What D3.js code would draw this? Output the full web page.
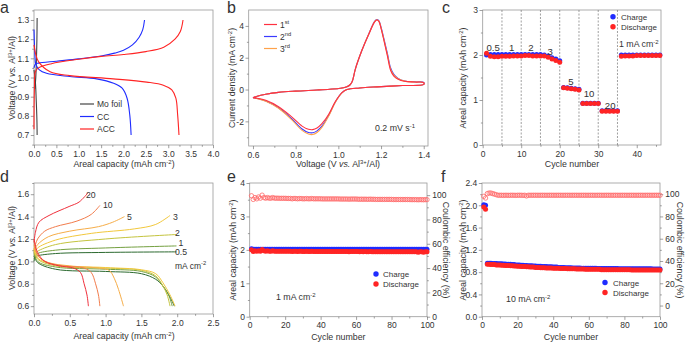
<!DOCTYPE html>
<html>
<head>
<meta charset="utf-8">
<script src="https://cdn.jsdelivr.net/npm/d3@7"></script>
<style>
body { margin: 0; background: #fff; }
text { font-family: "Liberation Sans", Arial, sans-serif; fill: #333; }
</style>
</head>
<body>
<svg id="fig" width="685" height="343"></svg>
<script>
// ---- panel a : galvanostatic curves (capacity, voltage)
var moCharge = [[0.02,0.94],[0.04,1.0],[0.055,1.1],[0.065,1.2],[0.07,1.31]];
var moDischarge = [[0.0,1.04],[0.03,0.98],[0.05,0.88],[0.065,0.78],[0.07,0.70]];
var ccCharge = [[0.0,1.05],[0.03,1.07],[0.1,1.075],[0.5,1.085],[1.0,1.097],[1.5,1.112],[1.8,1.127],[2.0,1.142],[2.2,1.17],[2.35,1.21],[2.43,1.25],[2.47,1.30]];
var ccDischarge = [[0.0,1.25],[0.02,1.12],[0.04,1.07],[0.12,1.04],[0.28,1.022],[0.8,1.005],[1.4,0.993],[1.78,0.97],[1.97,0.944],[2.08,0.892],[2.14,0.805],[2.17,0.70]];
var accCharge = [[0.0,0.73],[0.01,0.95],[0.03,1.03],[0.1,1.05],[0.39,1.072],[1.0,1.095],[1.5,1.11],[2.0,1.12],[2.5,1.135],[2.9,1.158],[3.15,1.2],[3.27,1.24],[3.33,1.30]];
var accDischarge = [[0.0,1.17],[0.04,1.12],[0.1,1.083],[0.36,1.03],[0.8,1.01],[1.77,0.993],[2.52,0.976],[2.89,0.96],[3.08,0.935],[3.17,0.892],[3.21,0.805],[3.24,0.70]];

// ---- panel b : cyclic voltammetry (voltage, current density)
var cv1 = [[0.60,-0.52],[0.62,-0.42],[0.66,-0.30],[0.72,-0.18],[0.80,-0.10],[0.90,-0.03],[0.96,0.02],[1.01,0.08],[1.04,0.17],[1.055,0.30],[1.065,0.50],[1.08,1.30],[1.11,2.45],[1.14,3.40],[1.17,4.25],[1.18,4.37],[1.19,4.28],[1.20,3.85],[1.215,3.00],[1.23,2.10],[1.245,1.20],[1.26,0.85],[1.28,0.65],[1.31,0.52],[1.36,0.47],[1.40,0.44],
  [1.40,0.32],[1.30,0.25],[1.18,0.17],[1.10,0.10],[1.04,0.0],[1.017,-0.19],[0.986,-0.75],[0.955,-1.55],[0.923,-2.15],[0.90,-2.42],[0.88,-2.52],[0.86,-2.50],[0.83,-2.30],[0.78,-1.70],[0.72,-1.08],[0.66,-0.68],[0.62,-0.55],[0.60,-0.52]];
var cv2 = [[0.60,-0.52],[0.62,-0.42],[0.66,-0.30],[0.72,-0.18],[0.80,-0.10],[0.90,-0.03],[0.96,0.02],[1.01,0.08],[1.04,0.17],[1.055,0.30],[1.065,0.50],[1.08,1.30],[1.11,2.45],[1.14,3.42],[1.17,4.28],[1.18,4.40],[1.19,4.32],[1.20,3.92],[1.215,3.10],[1.23,2.25],[1.245,1.35],[1.26,0.95],[1.28,0.70],[1.31,0.54],[1.36,0.48],[1.40,0.45],
  [1.40,0.32],[1.30,0.25],[1.18,0.17],[1.10,0.10],[1.04,0.0],[1.017,-0.20],[0.986,-0.78],[0.955,-1.62],[0.923,-2.30],[0.90,-2.60],[0.88,-2.72],[0.86,-2.70],[0.83,-2.48],[0.78,-1.82],[0.72,-1.15],[0.66,-0.72],[0.62,-0.56],[0.60,-0.52]];
var cv3 = [[0.60,-0.52],[0.62,-0.42],[0.66,-0.30],[0.72,-0.18],[0.80,-0.10],[0.90,-0.03],[0.96,0.02],[1.01,0.08],[1.04,0.17],[1.055,0.30],[1.065,0.50],[1.08,1.30],[1.11,2.45],[1.14,3.41],[1.17,4.27],[1.18,4.39],[1.19,4.30],[1.20,3.88],[1.215,3.05],[1.23,2.18],[1.245,1.28],[1.26,0.90],[1.28,0.68],[1.31,0.53],[1.36,0.47],[1.40,0.44],
  [1.40,0.32],[1.30,0.25],[1.18,0.17],[1.10,0.10],[1.04,0.0],[1.017,-0.21],[0.986,-0.80],[0.955,-1.66],[0.923,-2.38],[0.90,-2.70],[0.88,-2.83],[0.86,-2.80],[0.83,-2.57],[0.78,-1.88],[0.72,-1.18],[0.66,-0.74],[0.62,-0.57],[0.60,-0.52]];

// ---- panel c : rate capability
var cCharge = [2.00,2.01,2.01,2.01,2.01, 2.01,2.01,2.01,2.01,2.01, 2.01,2.01,2.01,2.01,2.01, 2.00,1.98,1.94,1.91,1.87,
  1.28,1.27,1.26,1.25,1.24, 0.93,0.93,0.93,0.93,0.93, 0.76,0.76,0.76,0.76,0.76,
  2.00,2.00,2.00,2.00,2.00,2.00,2.00,2.00,2.00,2.00,2.00];
var cDischarge = [2.04,1.97,1.96,1.96,1.97, 1.97,1.97,1.98,1.98,1.98, 1.99,1.99,1.98,1.98,1.98, 1.98,1.95,1.91,1.88,1.84,
  1.27,1.26,1.25,1.24,1.22, 0.92,0.92,0.92,0.92,0.92, 0.75,0.75,0.75,0.75,0.75,
  1.97,1.98,1.98,1.98,1.99,1.99,1.99,1.99,1.99,1.99,1.99];
var cRateLabels = ["0.5","1","2","3","5","10","20"];

// ---- panel d : curves at different current densities
var dRates = ["0.5","1","2","3","5","10","20"];
var dColors = ["#2c6a30","#74a040","#c4c43e","#f2c83c","#f6ad48","#f27c4c","#f0303c"];
var dCharge = [
  [[0.0,1.0],[0.02,1.04],[0.05,1.05],[0.3,1.07],[1.0,1.08],[1.99,1.085]],
  [[0.0,1.02],[0.02,1.05],[0.05,1.07],[0.3,1.10],[1.0,1.12],[1.99,1.138]],
  [[0.0,1.04],[0.02,1.07],[0.05,1.09],[0.3,1.15],[1.0,1.20],[1.99,1.24]],
  [[0.0,1.06],[0.02,1.09],[0.05,1.12],[0.3,1.19],[0.8,1.25],[1.4,1.29],[1.7,1.33],[1.9,1.41]],
  [[0.0,1.08],[0.02,1.12],[0.05,1.15],[0.2,1.22],[0.5,1.27],[0.9,1.31],[1.1,1.35],[1.264,1.40]],
  [[0.0,1.10],[0.02,1.15],[0.05,1.20],[0.15,1.27],[0.3,1.31],[0.6,1.36],[0.8,1.42],[0.92,1.50]],
  [[0.0,1.17],[0.02,1.26],[0.07,1.35],[0.21,1.41],[0.49,1.49],[0.63,1.53],[0.75,1.61]]
];
var dDischarge = [
  [[0.0,1.05],[0.05,0.99],[0.3,0.93],[1.0,0.91],[1.5,0.89],[1.7,0.84],[1.8,0.78],[1.9,0.68],[1.96,0.60]],
  [[0.0,1.08],[0.05,1.0],[0.3,0.95],[1.0,0.93],[1.5,0.91],[1.7,0.86],[1.8,0.78],[1.88,0.70],[1.93,0.60]],
  [[0.0,1.10],[0.05,1.02],[0.3,0.96],[1.0,0.94],[1.5,0.92],[1.7,0.87],[1.8,0.78],[1.86,0.70],[1.90,0.60]],
  [[0.0,1.12],[0.05,1.03],[0.3,0.97],[1.0,0.945],[1.5,0.925],[1.7,0.89],[1.8,0.81],[1.9,0.70],[1.97,0.60]],
  [[0.0,1.15],[0.05,1.05],[0.2,0.99],[0.5,0.96],[0.9,0.94],[1.05,0.92],[1.12,0.85],[1.18,0.75],[1.25,0.60]],
  [[0.0,1.18],[0.05,1.06],[0.15,1.0],[0.4,0.96],[0.7,0.94],[0.8,0.90],[0.86,0.80],[0.9,0.70],[0.92,0.60]],
  [[0.0,1.20],[0.05,1.08],[0.15,1.0],[0.35,0.96],[0.55,0.94],[0.65,0.90],[0.70,0.80],[0.74,0.70],[0.76,0.60]]
];

// ---- panel e : cycling at 1 mA cm-2
var eCharge = [
  2.03,2.02,2.02,2.02,2.02,2.02,2.02,2.02,2.02,2.02,
  2.02,2.02,2.02,2.02,2.02,2.02,2.02,2.02,2.02,2.02,
  2.02,2.02,2.02,2.02,2.02,2.02,2.02,2.02,2.02,2.02,
  2.02,2.02,2.02,2.02,2.02,2.02,2.02,2.02,2.02,2.02,
  2.02,2.02,2.02,2.02,2.02,2.02,2.02,2.02,2.02,2.02,
  2.02,2.02,2.02,2.02,2.02,2.02,2.02,2.02,2.02,2.02,
  2.02,2.02,2.02,2.02,2.02,2.02,2.02,2.02,2.02,2.02,
  2.02,2.02,2.02,2.02,2.02,2.02,2.02,2.02,2.02,2.02,
  2.02,2.02,2.02,2.02,2.02,2.02,2.02,2.02,2.02,2.02,
  2.02,2.02,2.02,2.02,2.02,2.02,2.02,2.02,2.02,2.02];
var eDischarge = [
  2.00,1.95,1.97,1.96,1.97,1.96,2.01,1.97,1.96,1.97,
  1.96,1.96,1.97,1.96,1.96,1.96,1.96,1.96,1.96,1.96,
  1.96,1.96,1.96,1.95,1.96,1.96,1.95,1.96,1.96,1.95,
  1.95,1.96,1.95,1.95,1.96,1.95,1.95,1.95,1.95,1.95,
  1.95,1.95,1.95,1.95,1.95,1.95,1.95,1.95,1.95,1.95,
  1.95,1.95,1.95,1.95,1.95,1.94,1.95,1.95,1.95,1.95,
  1.95,1.94,1.95,1.94,1.95,1.94,1.94,1.95,1.94,1.94,
  1.94,1.94,1.94,1.94,1.94,1.94,1.94,1.94,1.94,1.94,
  1.94,1.94,1.94,1.94,1.94,1.94,1.94,1.94,1.94,1.94,
  1.94,1.94,1.94,1.94,1.93,1.94,1.94,1.93,1.94,1.94];
var eCE = [
  99.5,96.5,98.0,97.0,98.5,97.5,100.0,98.0,97.5,98.0,
  97.5,97.5,98.0,97.5,97.5,97.5,97.4,97.4,97.4,97.4,
  97.3,97.3,97.3,97.0,97.3,97.2,97.0,97.2,97.2,97.0,
  97.0,97.2,97.0,97.0,97.2,97.0,97.0,97.0,97.0,97.0,
  96.9,96.9,96.9,96.9,96.9,96.9,96.9,96.9,96.9,96.9,
  96.8,96.8,96.8,96.8,96.8,96.7,96.8,96.8,96.8,96.8,
  96.7,96.6,96.7,96.6,96.7,96.6,96.6,96.7,96.6,96.6,
  96.5,96.5,96.5,96.5,96.5,96.5,96.5,96.5,96.5,96.5,
  96.4,96.4,96.4,96.4,96.4,96.4,96.4,96.4,96.4,96.4,
  96.3,96.3,96.3,96.3,96.2,96.3,96.3,96.2,96.3,96.3];

// ---- panel f : cycling at 10 mA cm-2
var fCharge = [
  2.01,2.00,0.96,0.96,0.96,0.955,0.955,0.955,0.95,0.95,
  0.95,0.945,0.945,0.94,0.94,0.94,0.935,0.935,0.93,0.93,
  0.93,0.925,0.925,0.92,0.92,0.915,0.915,0.915,0.91,0.91,
  0.905,0.905,0.905,0.90,0.90,0.90,0.895,0.895,0.895,0.89,
  0.89,0.89,0.885,0.885,0.885,0.885,0.88,0.88,0.88,0.88,
  0.875,0.875,0.875,0.875,0.875,0.87,0.87,0.87,0.87,0.87,
  0.87,0.87,0.87,0.87,0.865,0.865,0.865,0.865,0.865,0.865,
  0.865,0.865,0.865,0.865,0.865,0.865,0.86,0.86,0.86,0.86,
  0.86,0.86,0.86,0.86,0.86,0.86,0.86,0.86,0.86,0.86,
  0.86,0.86,0.86,0.86,0.86,0.855,0.855,0.855,0.855,0.855];
var fDischarge = [
  1.97,1.93,0.94,0.94,0.935,0.935,0.935,0.93,0.93,0.93,
  0.925,0.925,0.92,0.92,0.92,0.915,0.915,0.91,0.91,0.905,
  0.905,0.90,0.90,0.90,0.895,0.895,0.89,0.89,0.89,0.885,
  0.885,0.885,0.88,0.88,0.88,0.875,0.875,0.875,0.875,0.87,
  0.87,0.87,0.87,0.865,0.865,0.865,0.865,0.86,0.86,0.86,
  0.86,0.86,0.855,0.855,0.855,0.855,0.855,0.85,0.85,0.85,
  0.85,0.85,0.85,0.85,0.85,0.85,0.845,0.845,0.845,0.845,
  0.845,0.845,0.845,0.845,0.845,0.845,0.845,0.845,0.845,0.845,
  0.845,0.845,0.845,0.84,0.84,0.84,0.84,0.84,0.84,0.84,
  0.84,0.84,0.84,0.84,0.84,0.84,0.84,0.84,0.84,0.84];
var fCE = [
  98.0,96.5,100.5,101.0,101.0,100.5,100.0,99.5,99.0,99.0,
  99.0,98.9,99.0,99.0,98.9,99.0,99.0,99.0,98.9,99.0,
  99.0,99.0,98.9,99.0,98.4,99.0,99.0,99.0,99.0,99.0,
  99.0,99.0,99.0,99.0,99.0,99.0,99.0,99.0,99.0,99.0,
  99.0,99.0,99.0,99.0,99.0,99.0,99.0,99.0,99.0,99.0,
  99.0,99.0,99.0,99.0,99.0,99.0,99.0,99.0,99.0,99.0,
  99.0,99.0,99.0,99.0,99.0,99.0,99.0,99.0,99.0,99.0,
  99.0,99.0,99.0,99.0,99.0,99.0,99.0,99.0,99.0,99.0,
  99.0,99.0,99.0,99.0,99.0,99.0,99.0,99.0,99.0,99.0,
  99.0,99.0,99.0,99.0,99.0,99.0,99.0,99.0,99.0,99.0];

var BLUE = "#1f2cff", RED = "#ff2424", CEred = "#ff6a6a";
var svg = d3.select("#fig");

// text with superscripts / italics, parts = [[str, kind], ...]
function rich(g, x, y, parts, size, anchor, rot) {
  var t = g.append("text").attr("x", x).attr("y", y)
    .style("font-size", size + "px").attr("text-anchor", anchor || "start");
  if (rot) t.attr("transform", "rotate(" + rot + "," + x + "," + y + ")");
  var shift = 0;
  parts.forEach(function(p) {
    var s = t.append("tspan").text(p[0]);
    var want = p[1] == "sup" ? -size * 0.38 : 0;
    if (want != shift) { s.attr("dy", want - shift); shift = want; }
    if (p[1] == "sup") s.style("font-size", "0.68em");
    if (p[1] == "i") s.style("font-style", "italic");
  });
  return t;
}

function styleAxis(s) {
  s.select(".domain").remove();
  s.selectAll("line").attr("stroke", "#777").attr("stroke-width", 0.7);
  s.selectAll("text").attr("fill", "#333").style("font-size", "8.5px")
    .style("font-family", "'Liberation Sans', Arial, sans-serif");
}
function axis(g, gen, tr, major, minor, fmt, pad) {
  var a = g.append("g").attr("transform", tr)
    .call(gen.tickValues(minor).tickSize(1.8).tickFormat(""));
  styleAxis(a);
  var b = g.append("g").attr("transform", tr)
    .call(gen.tickValues(major).tickSize(3.2).tickPadding(pad || 1.6).tickFormat(fmt));
  styleAxis(b);
}

function panel(o) {
  var x = d3.scaleLinear().domain(o.xd).range([o.l, o.r]);
  var y = d3.scaleLinear().domain(o.yd).range([o.b, o.t]);
  var g = svg.append("g");
  g.append("rect").attr("x", o.l).attr("y", o.t)
    .attr("width", o.r - o.l).attr("height", o.b - o.t)
    .attr("fill", "none").attr("stroke", "#999").attr("stroke-width", 0.8);
  axis(g, d3.axisBottom(x), "translate(0," + o.b + ")", o.xt, o.xm, o.xf, 2.3);
  axis(g, d3.axisLeft(y), "translate(" + o.l + ",0)", o.yt, o.ym, o.yf);
  var p = { g: g, x: x, y: y };
  if (o.y2d) {
    p.y2 = d3.scaleLinear().domain(o.y2d).range([o.b, o.t]);
    axis(g, d3.axisRight(p.y2), "translate(" + o.r + ",0)", o.y2t, o.y2m, String, 2);
  }
  return p;
}
function drawLine(p, data, color, w, sy) {
  var yy = sy || p.y;
  p.g.append("path").datum(data)
    .attr("d", d3.line().x(function(d){ return p.x(d[0]); }).y(function(d){ return yy(d[1]); })
      .curve(d3.curveCatmullRom.alpha(0.5)))
    .attr("fill", "none").attr("stroke", color).attr("stroke-width", w || 1);
}
function dots(p, vals, color, open, sy) {
  var yy = sy || p.y;
  p.g.append("g").selectAll("circle").data(vals).enter().append("circle")
    .attr("cx", function(d, i){ return p.x(i + 1); })
    .attr("cy", function(d){ return yy(d); })
    .attr("r", open ? 2.2 : 2.5)
    .attr("fill", open ? "none" : color)
    .attr("stroke", open ? color : "none").attr("stroke-width", 0.8);
}
function legendDots(g, items, cx, tx) {
  items.forEach(function(l) {
    g.append("circle").attr("cx", cx).attr("cy", l[2]).attr("r", 2.7).attr("fill", l[1]);
    g.append("text").attr("x", tx).attr("y", l[2] + 3).text(l[0]).style("font-size", "8px");
  });
}
function rng(a, b, s) { return d3.range(a, b + s / 2, s); }
var f1 = d3.format(".1f");

var letters = [["a", 0, 13], ["b", 227, 13], ["c", 442, 13], ["d", 0, 182], ["e", 227, 182], ["f", 441, 182]];
letters.forEach(function(l) {
  svg.append("text").attr("x", l[1]).attr("y", l[2]).text(l[0]).style("font-size", "16px").attr("fill", "#111");
});

var TS = 8.8; // axis title size
var voltTitle = [["Voltage (V "], ["vs.", "i"], [" Al"], ["3+", "sup"], ["/Al)"]];
var capTitle = [["Areal capacity (mAh cm"], ["-2", "sup"], [")"]];

// ---------- a
var pa = panel({ l: 34, r: 213, t: 10, b: 145, xd: [0, 4.0], yd: [0.648, 1.352],
  xt: rng(0, 4, 0.5), xm: rng(0.25, 3.75, 0.5), xf: f1,
  yt: rng(0.7, 1.3, 0.1), ym: rng(0.65, 1.35, 0.1), yf: f1 });
drawLine(pa, moCharge, "#444", 1.1);
drawLine(pa, moDischarge, "#444", 1.1);
drawLine(pa, ccCharge, BLUE, 1.1);
drawLine(pa, ccDischarge, BLUE, 1.1);
drawLine(pa, accCharge, RED, 1.1);
drawLine(pa, accDischarge, RED, 1.1);
[["Mo foil", "#444", 104], ["CC", BLUE, 116.5], ["ACC", RED, 129]].forEach(function(l) {
  pa.g.append("line").attr("x1", 80).attr("x2", 94).attr("y1", l[2]).attr("y2", l[2])
    .attr("stroke", l[1]).attr("stroke-width", 1.2);
  pa.g.append("text").attr("x", 97).attr("y", l[2] + 3).text(l[0]).style("font-size", "8.5px");
});
rich(svg, 124, 167, capTitle, TS, "middle");
rich(svg, 15, 78, voltTitle, TS, "middle", -90);

// ---------- b
var pb = panel({ l: 248.7, r: 428, t: 10, b: 146, xd: [0.58, 1.42], yd: [-3.55, 5.0],
  xt: rng(0.6, 1.4, 0.2), xm: rng(0.7, 1.3, 0.2), xf: f1,
  yt: [-2, 0, 2, 4], ym: [-3, -1, 1, 3], yf: String });
drawLine(pb, cv2, "#3a3aff", 1.1);
drawLine(pb, cv3, "#ffa24a", 1.1);
drawLine(pb, cv1, "#ff3040", 1.1);
[["1", "st", "#ff3040", 24.5], ["2", "nd", "#3a3aff", 36.5], ["3", "rd", "#ffa24a", 48.5]].forEach(function(l) {
  pb.g.append("line").attr("x1", 264).attr("x2", 277).attr("y1", l[3]).attr("y2", l[3])
    .attr("stroke", l[2]).attr("stroke-width", 1.2);
  rich(pb.g, 280, l[3] + 3, [[l[0]], [l[1], "sup"]], 8.5, "start");
});
rich(pb.g, 375, 131, [["0.2 mV s"], ["-1", "sup"]], 8.8, "start");
rich(svg, 338, 167, voltTitle, TS, "middle");
rich(svg, 235, 78, [["Current density (mA cm"], ["-2", "sup"], [")"]], TS, "middle", -90);

// ---------- c
var pc = panel({ l: 482.7, r: 661, t: 10, b: 145, xd: [0, 46.3], yd: [0, 3],
  xt: rng(0, 40, 10), xm: rng(5, 45, 10), xf: String,
  yt: [0, 1, 2, 3], ym: [0.5, 1.5, 2.5], yf: String });
[5, 10, 15, 20, 25, 30, 35].forEach(function(v) {
  pc.g.append("line").attr("x1", pc.x(v)).attr("x2", pc.x(v)).attr("y1", 10).attr("y2", 145)
    .attr("stroke", "#777").attr("stroke-width", 0.7).attr("stroke-dasharray", "2,1.5");
});
dots(pc, cCharge, BLUE);
dots(pc, cDischarge, RED);
var cLabPos = [[2.7, 2.08], [7.5, 2.08], [12.5, 2.08], [17.5, 2.01], [22.9, 1.33], [27.6, 1.06], [33.1, 0.81]];
cRateLabels.forEach(function(s, i) {
  pc.g.append("text").attr("x", pc.x(cLabPos[i][0])).attr("y", pc.y(cLabPos[i][1]))
    .attr("text-anchor", "middle").text(s).style("font-size", "9.6px");
});
rich(pc.g, pc.x(35.4), pc.y(2.18), [["1 mA cm"], ["-2", "sup"]], 8.8, "start");
legendDots(pc.g, [["Charge", BLUE, 16.7], ["Discharge", RED, 26.7]], 613, 621);
svg.append("text").attr("x", 572).attr("y", 167).attr("text-anchor", "middle").text("Cycle number").style("font-size", TS + "px");
rich(svg, 466, 78, capTitle, TS, "middle", -90);

// ---------- d
var pd = panel({ l: 34, r: 213, t: 183, b: 314, xd: [0, 2.5], yd: [0.53, 1.70],
  xt: rng(0, 2.5, 0.5), xm: rng(0.25, 2.25, 0.5), xf: f1,
  yt: rng(0.6, 1.6, 0.2), ym: rng(0.7, 1.7, 0.2), yf: f1 });
dCharge.forEach(function(c, i) { drawLine(pd, c, dColors[i], 1); });
dDischarge.forEach(function(c, i) { drawLine(pd, c, dColors[i], 1); });
var dLabPos = [[175, 255], [178.5, 246], [175, 235.5], [173, 220], [127, 220], [103, 207.5], [86, 197.5]];
dRates.forEach(function(s, i) {
  pd.g.append("text").attr("x", dLabPos[i][0]).attr("y", dLabPos[i][1]).text(s).style("font-size", "8.7px");
});
rich(pd.g, 175, 268.5, [["mA cm"], ["-2", "sup"]], 8.5, "start");
rich(svg, 124, 339, capTitle, TS, "middle");
rich(svg, 15, 248, voltTitle, TS, "middle", -90);

// ---------- e
var pe = panel({ l: 249.7, r: 427, t: 183, b: 316.7, xd: [0, 100], yd: [0, 4],
  xt: rng(0, 100, 20), xm: rng(10, 90, 20), xf: String,
  yt: [0, 1, 2, 3, 4], ym: [0.5, 1.5, 2.5, 3.5], yf: String,
  y2d: [0, 110], y2t: rng(0, 100, 20), y2m: rng(10, 90, 20) });
dots(pe, eCE, CEred, true, pe.y2);
dots(pe, eCharge, BLUE);
dots(pe, eDischarge, RED);
legendDots(pe.g, [["Charge", BLUE, 274], ["Discharge", RED, 284]], 376, 383);
rich(pe.g, 276, 300, [["1 mA cm"], ["-2", "sup"]], 8.8, "start");
svg.append("text").attr("x", 338.4).attr("y", 339.5).attr("text-anchor", "middle").text("Cycle number").style("font-size", TS + "px");
rich(svg, 236, 250, capTitle, TS, "middle", -90);
rich(svg, 443, 250, [["Coulombic efficiency (%)"]], TS, "middle", 90);

// ---------- f
var pf = panel({ l: 482, r: 660, t: 183, b: 316.7, xd: [0, 100], yd: [0, 2.4],
  xt: rng(0, 100, 20), xm: rng(10, 90, 20), xf: String,
  yt: rng(0, 2.4, 0.4), ym: rng(0.2, 2.2, 0.4), yf: f1,
  y2d: [-10, 110], y2t: rng(0, 100, 20), y2m: rng(10, 90, 20) });
dots(pf, fCE, CEred, true, pf.y2);
dots(pf, fCharge, BLUE);
dots(pf, fDischarge, RED);
legendDots(pf.g, [["Charge", BLUE, 282.5], ["Discharge", RED, 292.5]], 605, 613);
rich(pf.g, 506, 302, [["10 mA cm"], ["-2", "sup"]], 8.8, "start");
svg.append("text").attr("x", 571).attr("y", 339.5).attr("text-anchor", "middle").text("Cycle number").style("font-size", TS + "px");
rich(svg, 466, 250, capTitle, TS, "middle", -90);
rich(svg, 677, 250, [["Coulombic efficiency (%)"]], TS, "middle", 90);
</script>
</body>
</html>
